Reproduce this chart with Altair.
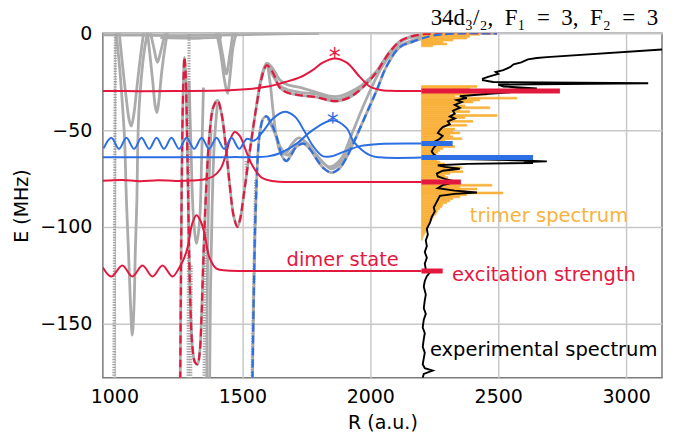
import altair as alt
import pandas as pd

RED = "#E3183F"
BLUE = "#2C6EE4"
ORANGE = "#F9B23C"
GRAY = "#ABABAB"

X_TICKS = [1000, 1500, 2000, 2500, 3000]
Y_TICKS = [0, -50, -100, -150]

# ---- potential curves (dashed) : (R, E) ----
RED_DASH = [(1257, -185), (1260, -130), (1263, -80), (1266, -48), (1270, -24), (1274, -12.4),
            (1279, -22), (1283, -45), (1287, -75), (1291, -105), (1297, -140), (1305, -162),
            (1315, -170), (1325, -171), (1334, -164), (1341, -145), (1347, -120), (1354, -95),
            (1362, -72), (1372, -52), (1387, -38), (1403, -34.7), (1418, -41), (1435, -58),
            (1452, -80), (1467, -95), (1481, -100), (1493, -95), (1503, -86), (1528, -62),
            (1556, -37), (1575, -23.3), (1595, -16.5), (1618, -20), (1646, -28), (1673, -30.5),
            (1724, -32), (1790, -33), (1841, -34.7), (1873, -35), (1920, -33), (1970, -28),
            (2025, -20), (2049, -15), (2080, -9), (2115, -4.2), (2160, -1.6), (2220, -0.3),
            (2280, 0), (2495, 0)]
BLUE_DASH = [(1539, -185), (1544, -140), (1550, -100), (1556, -76), (1562, -60), (1570, -50),
             (1582, -44), (1595, -43), (1615, -47), (1635, -54), (1657, -64), (1673, -66),
             (1690, -63), (1712, -58.5), (1740, -57), (1765, -60), (1790, -65), (1820, -70),
             (1849, -72), (1878, -70), (1908, -64), (1940, -55), (1970, -46), (2000, -37),
             (2025, -29.5), (2064, -17), (2115, -7.2), (2166, -4.3), (2240, -1.3), (2320, -0.2),
             (2495, 0)]

# ---- gray potential curves ----
GRAY_C = [(1556, -37), (1575, -22.5), (1595, -15.5), (1618, -18), (1646, -24), (1673, -26.5),
          (1724, -28), (1790, -30.5), (1841, -32.5), (1880, -32.5), (1920, -30.5), (1970, -26.5),
          (2025, -19.5), (2080, -9), (2140, -3), (2220, -0.5), (2300, 0)]
GRAY_D = [(1595, -16), (1618, -21.5), (1646, -27), (1673, -29), (1724, -30.5), (1790, -31.5),
          (1841, -33.5), (1880, -34), (1920, -32), (1970, -27.5), (2025, -20)]
GRAY_E = [(1575, -22), (1595, -17), (1607, -24), (1620, -40), (1635, -55), (1652, -62),
          (1670, -62), (1695, -57), (1720, -54), (1755, -57), (1795, -64), (1840, -69),
          (1885, -65), (1925, -53), (1965, -40), (2005, -28), (2045, -17.5), (2100, -8),
          (2166, -3.5), (2250, -0.8), (2350, 0)]
GRAY_F = [(1600, -44), (1625, -51), (1650, -59), (1675, -63), (1700, -60), (1730, -56.5),
          (1770, -60), (1810, -66), (1849, -70), (1890, -66), (1930, -55)]
GL1 = [(1006, 2), (1012, -6), (1022, -20), (1032, -38), (1040, -55), (1047, -86), (1055, -112),
       (1063, -140), (1070, -156), (1077, -140), (1082, -112), (1088, -86), (1091, -60),
       (1096, -40), (1106, -22), (1118, -8), (1132, 2)]
GL2 = [(1018, 2), (1030, -14), (1045, -32), (1058, -45), (1066, -48), (1076, -42), (1088, -28),
       (1102, -12), (1116, 2)]
GL3 = [(1128, 2), (1138, -10), (1150, -25), (1160, -38), (1166, -41), (1173, -36), (1185, -20),
       (1198, -7), (1210, 2)]
GL4 = [(1140, 1), (1155, -8), (1168, -15), (1180, -10), (1195, -2), (1205, 1)]
GT1 = [(955, -0.8), (1100, -1), (1250, -1.2), (1400, -1), (1550, -0.6), (1700, -0.2), (1800, 0)]
GT2 = [(1180, -2.2), (1260, -2.5), (1300, -2.6), (1350, -2.4), (1420, -2)]
GV1 = [(1398, 1), (1415, -10), (1430, -24), (1442, -31), (1452, -22), (1464, -7), (1478, 1)]
GV2 = [(1408, 1), (1424, -12), (1438, -21), (1450, -12), (1464, 1)]
GU = [(1292, -25), (1300, -62), (1309, -95), (1321, -108.6), (1333, -97), (1341, -65), (1348, -28)]
GD1 = [(1372, -185), (1376, -130), (1382, -90), (1390, -58), (1403, -36)]
GD2 = [(1361, -185), (1364, -120), (1369, -80), (1378, -50)]
DOT1 = [(998, -185), (1004, 2)]
DOT2 = [(1288, -185), (1292, 2)]
DOT3 = [(1298, -185), (1300, -120)]
DOT4 = [(1350, -185), (1356, -100)]
DOT5 = [(1537, -185), (1552, -76)]
DOT6 = [(1514, -66), (1516, -73)]

# ---- wavefunctions (solid) ----
RED_TOP = [(955, -29.8), (1100, -29.9), (1250, -29.8), (1411, -29.6), (1540, -28.6), (1600, -27.5),
           (1646, -26), (1724, -22.8), (1775, -19), (1814, -15.2), (1861, -13), (1908, -15.2),
           (1959, -22.5), (1998, -27.5), (2040, -29.3), (2076, -29.7), (2200, -29.8)]
BLUE_WAVE = [(958, -59.5), (988, -54), (1018, -59.7), (1047, -54), (1077, -59.7), (1106, -54),
             (1136, -59.7), (1165, -54), (1194, -59.7), (1223, -54), (1253, -59.7), (1282, -54),
             (1312, -59.7), (1341, -54), (1370, -59.7), (1399, -54), (1429, -59.7), (1458, -54),
             (1488, -59.7), (1518, -54.5), (1545, -55.5), (1579, -51), (1620, -44), (1665, -40.5),
             (1705, -43), (1740, -50), (1775, -58), (1814, -63.5), (1850, -63.5), (1900, -61),
             (1960, -58.3), (2037, -57.2), (2200, -57)]
BLUE_STAR = [(955, -64), (1200, -64.1), (1450, -64), (1600, -63.6), (1646, -62), (1712, -57),
             (1775, -50), (1853, -45), (1908, -49), (1935, -56), (1998, -63), (2037, -64.1),
             (2200, -64.2)]
RED_MID = [(955, -76.2), (1030, -75.8), (1100, -76.4), (1170, -75.9), (1240, -76.3), (1300, -76.1),
           (1350, -75.5), (1385, -74), (1415, -70), (1435, -63), (1452, -55), (1470, -51),
           (1490, -53), (1512, -60), (1540, -68.5), (1575, -74.5), (1625, -76.5), (1700, -76.8),
           (2200, -76.8)]
DIMER = [(955, -121), (988, -125.7), (1031, -120), (1070, -125.7), (1110, -120), (1149, -125.7),
         (1188, -120), (1227, -125.7), (1254, -121), (1270, -117), (1286, -110.7), (1305, -98),
         (1321, -94), (1337, -97), (1352, -103.5), (1372, -116), (1399, -121.6), (1440, -122.6),
         (1600, -122.8), (2200, -122.8)]

# ---- excitation strength bars ----
EXC_START = 2200
EXC_E = [-29.8, -57.0, -64.2, -76.8, -122.8]
EXC_END = [2741, 2322, 2636, 2354, 2283]
EXC_COL = [RED, BLUE, BLUE, RED, RED]

# ---- trimer spectrum (bins of 1 MHz, top edge E, right end R) ----
TRIMER_START = 2200
TRIMER_E = [0, -1, -2, -3, -4, -5, -6] + list(range(-27, -107, -1))
TRIMER_END = [2428, 2389, 2377, 2323, 2283, 2299, 2244,
              2417, 2389, 2358, 2370, 2456, 2330, 2573, 2428, 2401, 2330,
              2370, 2467, 2350, 2389, 2311, 2495, 2370, 2330, 2401, 2311,
              2377, 2291, 2330, 2323, 2350, 2311, 2323, 2358, 2291, 2311,
              2303, 2330, 2283, 2272, 2264, 2256, 2272, 2264, 2260, 2272,
              2291, 2283, 2358, 2330, 2362, 2311, 2291, 2303, 2272, 2350,
              2330, 2475, 2350, 2417, 2370, 2518, 2377, 2350, 2323, 2311,
              2299, 2283, 2280, 2272, 2264, 2260, 2256, 2248, 2244, 2240,
              2233, 2229, 2225, 2225, 2221, 2217, 2213, 2209, 2205, 2203]

# ---- experimental spectrum ----
EXP_E = [-178, -176, -174.3, -173, -171, -168, -165, -162, -158, -155, -152, -148, -145, -142,
         -138, -135, -131, -128, -125.5, -123.6, -122, -119, -116, -113, -110, -107, -104, -101,
         -98, -95, -92, -90, -88, -86, -84, -83, -82.3, -81.3, -80, -78.5, -77.5, -76.3, -75.2,
         -74, -72.5, -71, -70, -69, -68.2, -67.5, -67.0, -66.6, -66.2, -65.6, -65, -64, -62.5,
         -61, -59, -57.5, -56, -54.5, -53, -51.5, -50, -48.5, -47, -45.5, -44, -43, -41.5, -40,
         -38.5, -37, -35.5, -34.5, -33.5, -32.5, -31.5, -30.5, -29.5, -28.5, -27.5, -26.5, -25.8,
         -25.2, -24.2, -23.4, -22.5, -21, -20, -19, -17.5, -16, -15, -13.5, -12.8, -12.3, -8.4]
EXP_R = [2205, 2209, 2244, 2213, 2205, 2209, 2213, 2205, 2209, 2213, 2205, 2209, 2217, 2209,
         2213, 2217, 2209, 2213, 2221, 2233, 2217, 2213, 2221, 2213, 2221, 2217, 2225, 2221,
         2233, 2240, 2252, 2248, 2256, 2264, 2272, 2330, 2417, 2330, 2264, 2283, 2311, 2323, 2291,
         2264, 2260, 2283, 2350, 2291, 2264, 2380, 2636, 2600, 2690, 2560, 2350, 2264, 2248,
         2240, 2248, 2260, 2252, 2272, 2283, 2264, 2272, 2283, 2311, 2303, 2330, 2311, 2330, 2323,
         2350, 2330, 2358, 2338, 2377, 2350, 2440, 2546, 2495, 2651, 2520, 2500, 3086,
         2480, 2440, 2440, 2460, 2500, 2490, 2520, 2546, 2560, 2590, 2616, 2651, 2690, 3140]

# ---- annotations ----
ANN_TEXT = ["dimer state", "excitation strength", "trimer spectrum", "experimental spectrum"]
ANN_R = [1673, 2319, 2389, 2233]
ANN_E = [-120.5, -127.8, -97.6, -166.6]
ANN_COL = [RED, RED, ORANGE, "black"]
STAR_R = [1861, 1853]
STAR_E = [-16.6, -50.2]
STAR_COL = [RED, BLUE]
TITLE_TEXT = ["34d\u2083/\u2082,\u2002F\u2081\u2002=\u20023,\u2002F\u2082\u2002=\u20023"]
TITLE_R = [3125]
TITLE_E = [4.3]


def to_df(curves):
    rows = []
    for name, pts in curves.items():
        for i, (r, e) in enumerate(pts):
            rows.append({"R": r, "E": e, "c": name, "i": i})
    return pd.DataFrame(rows)


XS = alt.Scale(domain=[955, 3140], nice=False, zero=False)
YS = alt.Scale(domain=[-178, 0], nice=False, zero=False)
FONT = "DejaVu Sans"
AX_X = alt.Axis(values=X_TICKS, format="d", title="R (a.u.)", grid=True, gridColor="#C8C8C8",
                gridWidth=1.5, domain=False, ticks=False, labelFont=FONT, labelFontSize=19,
                labelColor="black", labelPadding=10, titleFont=FONT, titleFontSize=19,
                titleFontWeight="normal", titleColor="black", titlePadding=7)
AX_Y = alt.Axis(values=Y_TICKS, format="d", title="E (MHz)", grid=True, gridColor="#C8C8C8",
                gridWidth=1.5, domain=False, ticks=False, labelFont=FONT, labelFontSize=19,
                labelColor="black", labelPadding=11, titleFont=FONT, titleFontSize=19,
                titleFontWeight="normal", titleColor="black", titlePadding=8)


def xenc(f="R"):
    return alt.X(f"{f}:Q", scale=XS, axis=AX_X)


def yenc(f="E"):
    return alt.Y(f"{f}:Q", scale=YS, axis=AX_Y)


def line_layer(curves, color, width, dash=None, interp="catmull-rom"):
    props = dict(color=color, strokeWidth=width, interpolate=interp, clip=True, strokeCap="butt")
    if dash is not None:
        props["strokeDash"] = dash
    return alt.Chart(to_df(curves)).mark_line(**props).encode(
        x=xenc(), y=yenc(), detail="c:N", order=alt.Order("i:Q"))


gray_solid = line_layer({"ga": RED_DASH, "gb": BLUE_DASH, "gc": GRAY_C, "gd": GRAY_D,
                         "ge": GRAY_E, "gf": GRAY_F, "gl1": GL1, "gl2": GL2, "gl3": GL3,
                         "gl4": GL4, "gt1": GT1, "gt2": GT2, "gv1": GV1, "gv2": GV2,
                         "gu": GU, "gd1": GD1, "gd2": GD2}, GRAY, 2.8)
gray_dot = line_layer({"d1": DOT1, "d2": DOT2, "d3": DOT3, "d4": DOT4, "d5": DOT5, "d6": DOT6},
                      "#A0A0A0", 3.2, dash=[1.3, 1.3], interp="linear")

tri = pd.DataFrame({"R0": TRIMER_START, "R1": TRIMER_END,
                    "Etop": TRIMER_E, "Ebot": [e - 1 for e in TRIMER_E]})
trimer = alt.Chart(tri).mark_rect(color=ORANGE, stroke=ORANGE, strokeWidth=0.6, clip=True).encode(
    x=xenc("R0"), x2="R1:Q", y=yenc("Etop"), y2="Ebot:Q")

red_dash = line_layer({"rd": RED_DASH}, RED, 2.2, dash=[8, 4])
blue_dash = line_layer({"bd": BLUE_DASH}, BLUE, 2.2, dash=[8, 4])
red_waves = line_layer({"r1": RED_TOP, "r2": RED_MID, "r3": DIMER}, RED, 2)
blue_waves = line_layer({"b1": BLUE_WAVE, "b2": BLUE_STAR}, BLUE, 2)

exp = alt.Chart(pd.DataFrame({"R": EXP_R, "E": EXP_E})).mark_line(
    color="black", strokeWidth=1.9, clip=True).encode(x=xenc(), y=yenc(), order=alt.Order("E:Q"))

exc = alt.Chart(pd.DataFrame({"R0": EXC_START, "R1": EXC_END, "E": EXC_E, "col": EXC_COL})).mark_rule(
    strokeWidth=5, clip=True).encode(x=xenc("R0"), x2="R1:Q", y=yenc(),
                                     color=alt.Color("col:N", scale=None))

ann = alt.Chart(pd.DataFrame({"R": ANN_R, "E": ANN_E, "t": ANN_TEXT, "col": ANN_COL})).mark_text(
    font=FONT, fontSize=19.5, align="left", baseline="alphabetic").encode(
    x=xenc(), y=yenc(), text="t:N", color=alt.Color("col:N", scale=None))

stars = alt.Chart(pd.DataFrame({"R": STAR_R, "E": STAR_E, "t": ["*", "*"], "col": STAR_COL})).mark_text(
    font=FONT, fontSize=24, align="center", baseline="alphabetic").encode(
    x=xenc(), y=yenc(), text="t:N", color=alt.Color("col:N", scale=None))

title = alt.Chart(pd.DataFrame({"R": TITLE_R, "E": TITLE_E, "t": TITLE_TEXT})).mark_text(
    font="Liberation Serif", fontSize=23, align="right", baseline="alphabetic", color="black",
    clip=False).encode(x=xenc(), y=yenc(), text="t:N")

chart = alt.layer(gray_solid, gray_dot, trimer, red_dash, blue_dash, red_waves, blue_waves,
                  exp, exc, ann, stars, title).properties(
    width=560, height=345,
    autosize=alt.AutoSizeParams(type="none"),
    padding={"left": 95, "top": 25, "right": 8, "bottom": 60},
).configure_view(stroke="#7A7A7A", strokeWidth=1.5)

chart.save("out.html", embed_options={"renderer": "svg", "actions": False})
